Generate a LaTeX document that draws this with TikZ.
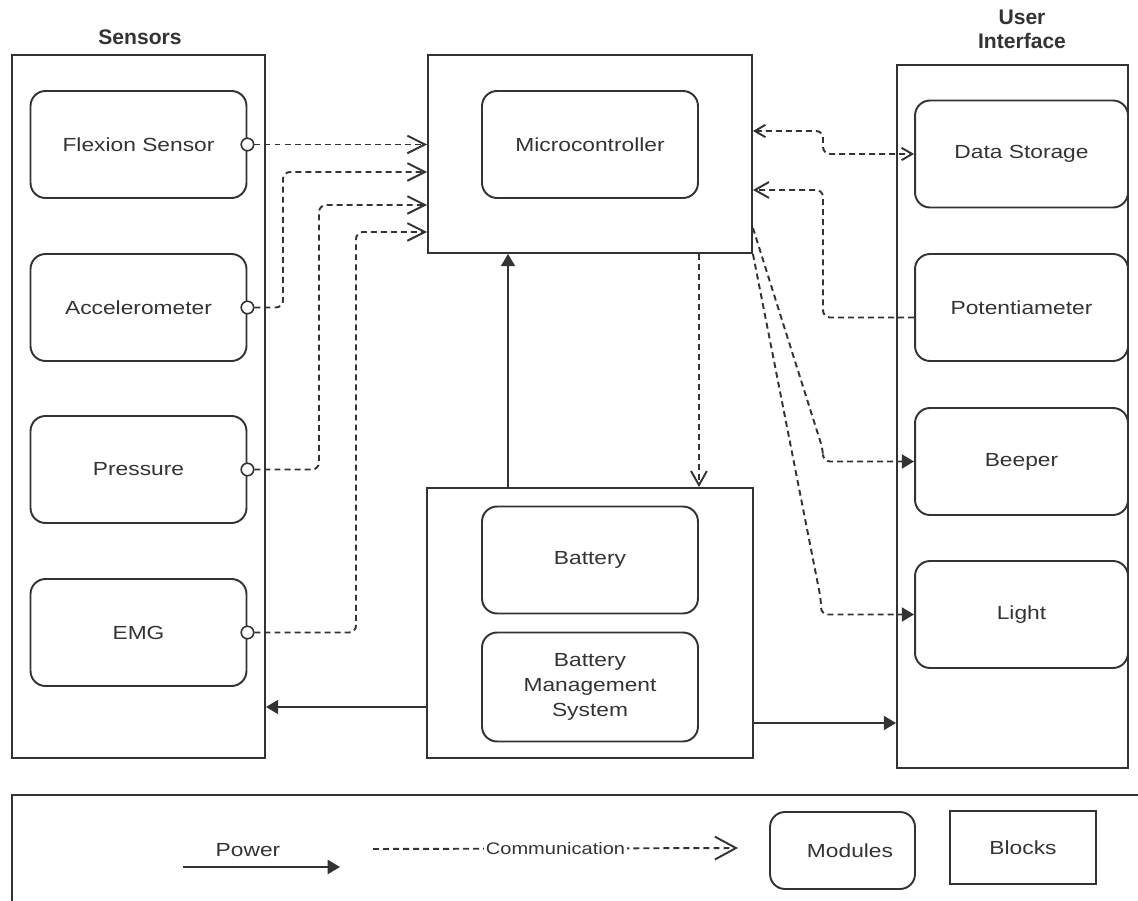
\documentclass[tikz,border=0pt]{standalone}
\usepackage{fontspec}
\setmainfont[FakeStretch=1.2]{Liberation Sans}
\newfontfamily\headfont{Liberation Sans}
\usetikzlibrary{arrows.meta}

\begin{document}
\begin{tikzpicture}
        [x=0.02cm, y=-0.02cm, line width=1.1pt, color=black!80,
         font=\fontsize{10.8}{14}\selectfont,
         block/.style={rectangle, draw},
         module/.style={rectangle, draw, rounded corners=0.3cm, minimum width=4.32cm, minimum height=2.14cm, align=center},
         port/.style={circle, draw, fill=white, inner sep=0pt, minimum size=0.25cm, line width=0.9pt},
         comm/.style={dash pattern=on 3.4pt off 2.3pt, rounded corners=4pt, -{Straight Barb[length=8pt,width=9pt]}},
         power/.style={-{Triangle[length=7pt,width=8pt]}},
         heading/.style={font=\headfont\bfseries\fontsize{12}{13.6}\selectfont, align=center}]
        \useasboundingbox (0,0) rectangle (1138,901);
        \clip (0,0) rectangle (1138,901);

        % sensors
        \node[block, minimum width=5.06cm, minimum height=14.06cm] (sensors) at (138.5,406.5) {};
        \node[heading] at (140,37) {Sensors};
        \foreach \name/\y/\txt in {flex/144.5/Flexion Sensor, acc/307.5/Accelerometer, pres/469.5/Pressure, emg/632.5/EMG}
          {
            \node[module] (\name) at (138.5,\y) {\txt};
            \node[port] (\name p) at (\name.east) {};
          }

        % microcontroller and power supply
        \node[block, minimum width=6.48cm, minimum height=3.96cm] (mcu) at (590,154) {};
        \node[module] (micro) at (590,144.5) {Microcontroller};
        \node[block, minimum width=6.52cm, minimum height=5.4cm] (psu) at (590,623) {};
        \node[module] (bat) at (590,560) {Battery};
        \node[module, minimum height=2.18cm] (bms) at (590,687) {Battery\\Management\\System};

        % user interface
        \node[block, minimum width=4.62cm, minimum height=14.06cm] (ui) at (1012.5,416.5) {};
        \node[heading] at (1022,29) {User\\Interface};
        \foreach \name/\y/\txt in {store/154/Data Storage, pot/307.5/Potentiameter, beep/461.5/Beeper, light/614.5/Light}
          \node[module, minimum width=4.26cm] (\name) at (1021.5,\y) {\txt};

        % communication lines
        \draw[comm, -{Straight Barb[length=10pt,width=10pt]}] (flexp) -- (mcu.west |- flexp);
        \draw[comm, -{Straight Barb[length=10pt,width=10pt]}] (accp) -| (283,172) -- (mcu.west |- 0,172);
        \draw[comm, -{Straight Barb[length=10pt,width=10pt]}] (presp) -| (319,205) -- (mcu.west |- 0,205);
        \draw[comm, -{Straight Barb[length=10pt,width=10pt]}] (emgp) -| (356,232) -- (mcu.west |- 0,232);
        \draw[comm, {Straight Barb[length=6pt,width=7pt]}-{Straight Barb[length=6pt,width=7pt]}]
          (mcu.east |- 0,131) -- (823,131) |- (store.west);
        \draw[comm] ([yshift=-0.2cm]pot.west) -| (823,190) -- (mcu.east |- 0,190);
        \draw[comm, -{Triangle[length=7pt,width=8pt]}] ([yshift=0.52cm]mcu.south east) -- (823,450) |- (beep.west);
        \draw[comm, -{Triangle[length=7pt,width=8pt]}] (mcu.south east) -- (821,600) |- (light.west);
        \draw[comm] (bat.east |- mcu.south) -- (bat.east |- psu.north);

        % power lines
        \draw[power] ([xshift=-1.64cm]psu.north) -- ([xshift=-1.64cm]mcu.south);
        \draw[power] ([yshift=-1.68cm]psu.west) -- (sensors.east |- 0,707);
        \draw[power] ([yshift=-2cm]psu.east) -- (ui.west |- 0,723);

        % legend
        \node[block, minimum width=22.76cm, minimum height=2.4cm] (legend) at (581,855) {};
        \coordinate (pw0) at (183,867);
        \coordinate (pw1) at (340,867);
        \draw[power] (pw0) -- (pw1);
        \node at (248,850) {Power};
        \coordinate (cm0) at (373,849);
        \coordinate (cm1) at (738,848);
        \draw[comm, -{Straight Barb[length=12pt,width=13pt]}] (cm0) -- (cm1)
          node[midway, fill=white, inner sep=1pt, font=\fontsize{9.5}{11}\selectfont] {Communication};
        \node[module, minimum width=2.9cm, minimum height=1.54cm] (modkey) at (842.5,850.5) {\hspace{0.3cm}Modules};
        \node[block, minimum width=2.92cm, minimum height=1.46cm] (blockkey) at (1023,847.5) {Blocks};
      \end{tikzpicture}
\end{document}
